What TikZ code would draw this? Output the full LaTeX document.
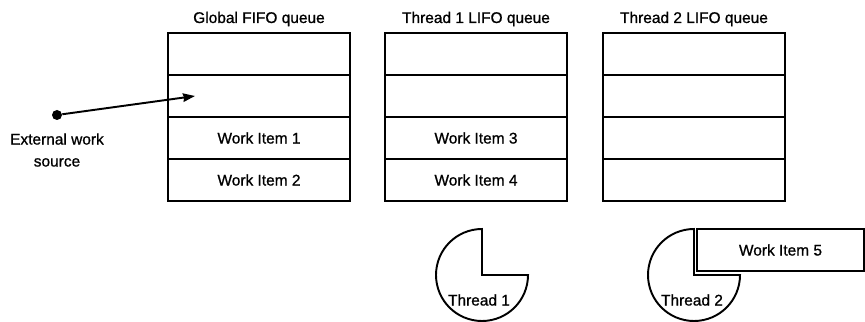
\documentclass[tikz,border=0pt]{standalone}
\usepackage{fontspec}
\setmainfont{Liberation Sans}[FakeBold=0.9]
\usetikzlibrary{arrows.meta}

\begin{document}
\begin{tikzpicture}[x=0.02cm,y=0.02cm,font=\fontsize{8.8}{12.5}\selectfont,
  slot/.style={draw,line width=1.1pt,minimum width=3.64cm,minimum height=0.84cm,inner sep=0pt,outer sep=0pt},
  srcdot/.style={circle,fill,minimum size=0.2cm,inner sep=0pt},
  thread/.style={draw,line width=1.1pt,fill=white}]
\useasboundingbox (0,0) rectangle (865,321);
% queues
\foreach \q/\x/\c/\d in {g/259/Work Item 1/Work Item 2, a/476/Work Item 3/Work Item 4, b/694//} {
  \node[slot] (\q1) at (\x,267) {};
  \node[slot] (\q2) at (\x,225) {};
  \node[slot] (\q3) at (\x,183) {\c};
  \node[slot] (\q4) at (\x,141) {\d};
}
\node (gt) at (259,302) {Global FIFO queue};
\node (at) at (476,302) {Thread 1 LIFO queue};
\node (bt) at (694,302) {Thread 2 LIFO queue};
% external source
\node[srcdot] (src) at (57,206) {};
\coordinate (tip) at (195,225);
\draw[line width=1.1pt,-{Stealth[length=0.24cm,width=0.17cm,inset=0.02cm]}] (src) -- (tip);
\node[align=center] (ext) at (57,171) {External work\\source};
% threads
\draw[thread] (482,46) -- ++(0,46) arc[start angle=90,end angle=360,radius=46] -- cycle;
\node (th1) at (479,21) {Thread 1};
\draw[thread] (694,46) -- ++(0,46) arc[start angle=90,end angle=360,radius=46] -- cycle;
\node (th2) at (692,21) {Thread 2};
\node[slot,minimum width=3.34cm] (w5) at (780.5,71) {Work Item 5};
\end{tikzpicture}
\end{document}
